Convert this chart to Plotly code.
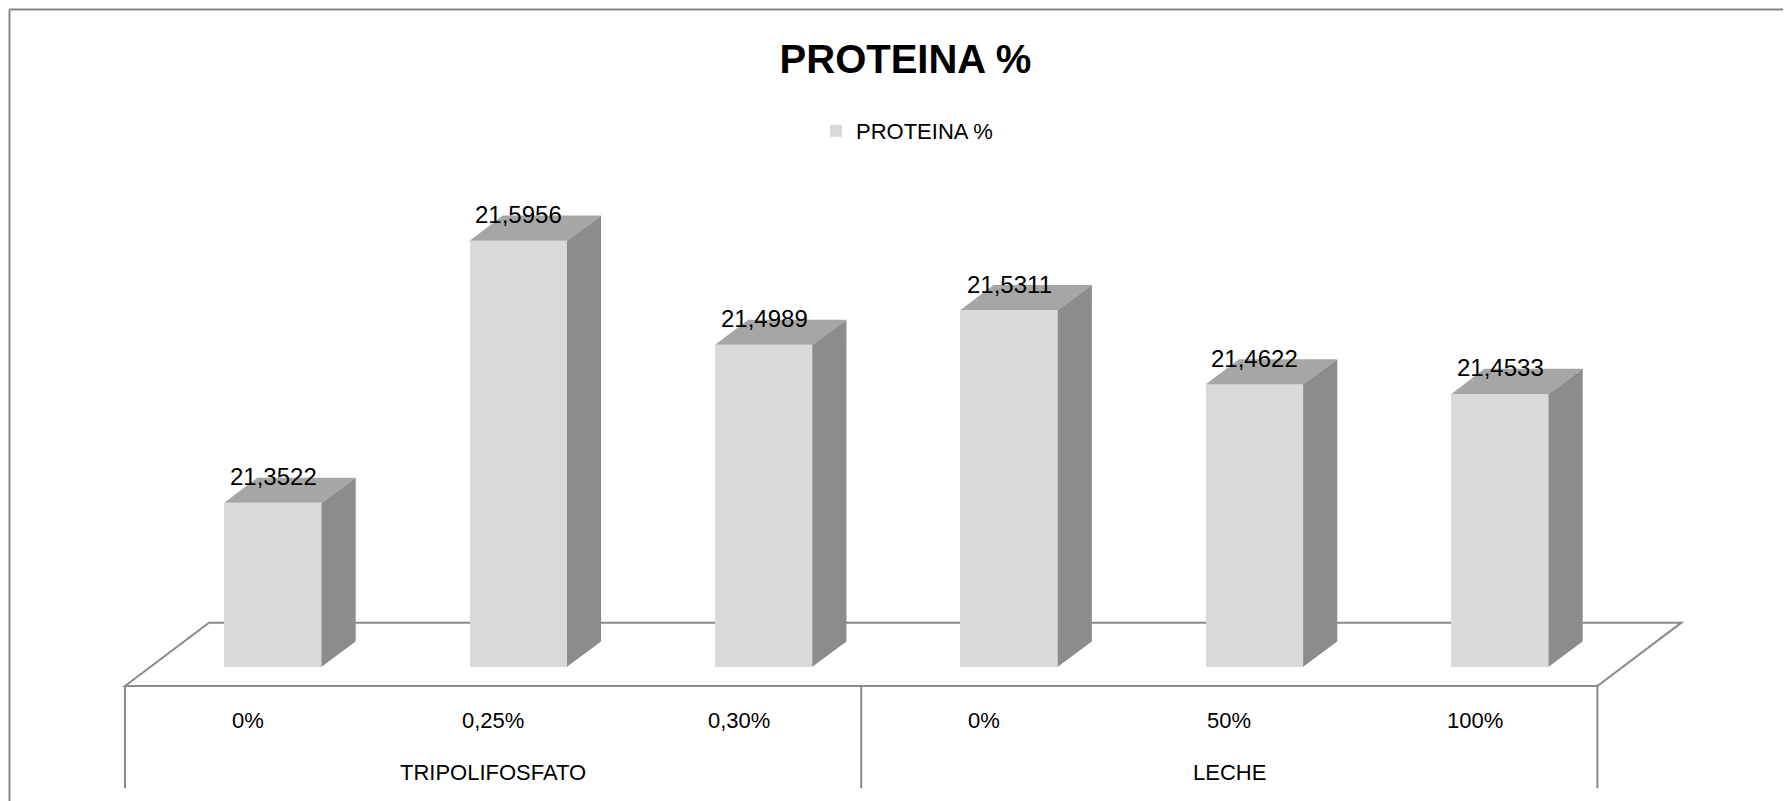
import plotly.graph_objects as go

# ---------------- data ----------------
categories = ["0%", "0,25%", "0,30%", "0%", "50%", "100%"]
groups = ["TRIPOLIFOSFATO", "LECHE"]
group_sizes = [3, 3]
values = [21.3522, 21.5956, 21.4989, 21.5311, 21.4622, 21.4533]
series_name = "PROTEINA %"
title_text = "PROTEINA %"

# ---------------- style / geometry ----------------
FONT = "Liberation Sans, Arial, sans-serif"
FRONT = "#d9d9d9"
TOP = "#a6a6a6"
SIDE = "#8c8c8c"
EDGE = "#8a8a8a"

OFF = 8                       # page body margin offset
W_PX, H_PX = 1791 - OFF, 801 - OFF

BASE = 21.2            # floor value (axis minimum)
DDX = 0.3423           # oblique depth vector (x units per unit floor depth)
DDY = 0.05877          # oblique depth vector (value units per unit floor depth)
D0 = 0.304             # depth where bar front face sits
DD = 0.397             # bar depth
W = 0.40               # bar width
SEAM = 0.003           # tiny overlap to hide anti-alias seams

# axis calibration (page pixels)
X0_PX, X_SCALE = 247.7 - OFF, 245.4
Y0_PX, Y_SCALE = 666.7 - OFF, 1077.0
XR = [-X0_PX / X_SCALE, (W_PX - X0_PX) / X_SCALE]
YR = [BASE - (H_PX - Y0_PX) / Y_SCALE, BASE + Y0_PX / Y_SCALE]


def py(page_y):
    return 1 - (page_y - OFF) / H_PX


def px(page_x):
    return (page_x - OFF) / W_PX


n = len(categories)
xs = list(range(n))
x_front = D0 * DDX  # horizontal shift of the bar front face

fig = go.Figure()

# front faces
fig.add_trace(go.Bar(
    x=xs, y=[v - BASE for v in values], base=BASE,
    width=W, offset=x_front - W / 2,
    marker=dict(color=FRONT, line=dict(width=0)),
    name=series_name, showlegend=True,
    hovertext=[f"{v:.4f}".replace(".", ",") for v in values], hoverinfo="text",
))

# side and top faces
ox, oy = DD * DDX, DD * DDY
for i, v in zip(xs, values):
    xl = i + x_front - W / 2
    xr = i + x_front + W / 2
    fig.add_trace(go.Scatter(
        x=[xr - SEAM, xr + ox, xr + ox, xr - SEAM, xr - SEAM],
        y=[BASE, BASE + oy, v + oy, v, BASE],
        mode="lines", fill="toself", fillcolor=SIDE,
        line=dict(width=0, color=SIDE), showlegend=False, hoverinfo="skip"))
    fig.add_trace(go.Scatter(
        x=[xl, xr, xr + ox, xl + ox, xl],
        y=[v, v, v + oy, v + oy, v],
        mode="lines", fill="toself", fillcolor=TOP,
        line=dict(width=0, color=TOP), showlegend=False, hoverinfo="skip"))

# floor parallelogram
xa, xb = -0.5, n - 0.5
yf = BASE - D0 * DDY
yb = BASE + (1 - D0) * DDY
floor_path = (f"M{xa},{yf} L{xb},{yf} L{xb + DDX},{yb} L{xa + DDX},{yb} Z")
shapes = [dict(type="path", path=floor_path, xref="x", yref="y",
               line=dict(color=EDGE, width=2), layer="below")]

# category table lines
y_tab_bottom = BASE - (788.3 - 666.7) / Y_SCALE
edges = [-0.5]
acc = -0.5
for g in group_sizes:
    acc += g
    edges.append(acc)
for xe in edges:
    shapes.append(dict(type="line", xref="x", yref="y", x0=xe, x1=xe,
                       y0=yf, y1=y_tab_bottom, line=dict(color=EDGE, width=2),
                       layer="below"))

# outer chart border (top and left visible)
bx = px(9.5)
by = py(9.5)
shapes.append(dict(type="line", xref="paper", yref="paper", x0=bx, x1=1, y0=by, y1=by,
                   line=dict(color="#868686", width=2)))
shapes.append(dict(type="line", xref="paper", yref="paper", x0=bx, x1=bx, y0=0, y1=by,
                   line=dict(color="#868686", width=2)))

annotations = []
# data labels
for i, v in zip(xs, values):
    annotations.append(dict(
        x=i + x_front, y=v, xref="x", yref="y",
        text=f"{v:.4f}".replace(".", ","), showarrow=False,
        yanchor="middle", yshift=26,
        font=dict(family=FONT, size=24, color="#000000")))
# category labels
for i, c in zip(xs, categories):
    annotations.append(dict(
        x=i, y=py(720), xref="x", yref="paper", text=c, showarrow=False,
        yanchor="middle", font=dict(family=FONT, size=22, color="#000000")))
# group labels
start = 0
for g, size in zip(groups, group_sizes):
    center = start + (size - 1) / 2
    annotations.append(dict(
        x=center, y=py(772.5), xref="x", yref="paper", text=g, showarrow=False,
        yanchor="middle", font=dict(family=FONT, size=22, color="#000000")))
    start += size

fig.update_layout(
    width=W_PX, height=H_PX,
    margin=dict(l=0, r=0, t=0, b=0),
    paper_bgcolor="white", plot_bgcolor="white",
    title=dict(text=title_text, x=px(905.5), xanchor="center",
               y=py(58.7), yanchor="middle",
               font=dict(family=FONT, size=40, color="#000000", weight="bold")),
    legend=dict(x=px(816), xanchor="left", y=py(131), yanchor="middle",
                orientation="h", font=dict(family=FONT, size=22, color="#000000"),
                bgcolor="rgba(0,0,0,0)", itemwidth=30),
    xaxis=dict(range=XR, visible=False, fixedrange=True),
    yaxis=dict(range=YR, visible=False, fixedrange=True),
    shapes=shapes, annotations=annotations,
    showlegend=True, bargap=0,
)

fig.write_html("out.html")
